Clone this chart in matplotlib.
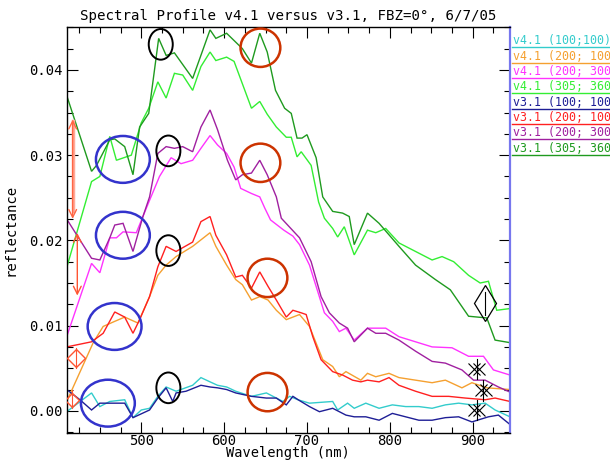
import matplotlib
matplotlib.use("Agg")
import matplotlib.pyplot as plt
from matplotlib.lines import Line2D
from matplotlib.patches import Ellipse
from matplotlib.ticker import MultipleLocator, FormatStrFormatter

# ---------------- data ----------------
labels = ["v4.1 (100;100)", "v4.1 (200; 100", "v4.1 (200; 300", "v4.1 (305; 360",
          "v3.1 (100; 100", "v3.1 (200; 100", "v3.1 (200; 300", "v3.1 (305; 360"]
colors = ["#33cccc", "#f5a030", "#ff33ff", "#33ee33",
          "#1e1e96", "#ff2020", "#a020a0", "#1f9a1f"]

wl_cyan = [410, 440, 450, 462, 480, 490, 500, 510, 520, 530, 542, 562, 572, 583, 592, 603, 614, 633, 651,
           663, 671, 679, 689, 703, 731, 737, 749, 757, 771, 787, 803, 819, 835, 851, 867, 883, 899, 915, 927, 945]
v41_100_100 = [-0.0001, 0.0021, 0.0005, 0.0011, 0.0013, -0.0008, 0.0001, 0.0003, 0.0017, 0.0028, 0.0023,
               0.0030, 0.0039, 0.0034, 0.0030, 0.0028, 0.0023, 0.0017, 0.0021, 0.0015, 0.0011, 0.0017,
               0.0013, 0.0009, 0.0011, 0.0001, 0.0009, 0.0003, 0.0009, 0.0003, 0.0007, 0.0005, 0.0005,
               0.0003, 0.0007, 0.0009, 0.0007, 0.0009, 0.0001, -0.0007]

wl_orange = [410, 442, 454, 468, 480, 496, 510, 520, 530, 542, 562, 583, 590, 603, 614, 622, 633, 643, 653,
             663, 675, 691, 703, 719, 731, 739, 747, 765, 773, 783, 799, 811, 831, 851, 867, 887, 899, 917, 945]
v41_200_100 = [0.0011, 0.0080, 0.0099, 0.0105, 0.0110, 0.0103, 0.0134, 0.0159, 0.0171, 0.0181, 0.0193,
               0.0209, 0.0193, 0.0171, 0.0154, 0.0148, 0.0130, 0.0134, 0.0130, 0.0118, 0.0107, 0.0113,
               0.0099, 0.0060, 0.0052, 0.0040, 0.0046, 0.0036, 0.0044, 0.0040, 0.0044, 0.0039, 0.0036,
               0.0033, 0.0036, 0.0027, 0.0033, 0.0027, 0.0025]

wl_magenta = [410, 440, 450, 462, 470, 478, 494, 510, 522, 536, 548, 562, 572, 583, 592, 603, 612, 620, 633,
              643, 649, 656, 672, 683, 691, 703, 721, 731, 739, 747, 757, 773, 795, 811, 831, 851, 875, 895,
              913, 925, 945]
v41_200_300 = [0.0087, 0.0173, 0.0162, 0.0203, 0.0203, 0.0210, 0.0209, 0.0247, 0.0275, 0.0297, 0.0290,
               0.0294, 0.0308, 0.0323, 0.0312, 0.0302, 0.0286, 0.0261, 0.0255, 0.0251, 0.0238, 0.0224,
               0.0212, 0.0205, 0.0195, 0.0171, 0.0115, 0.0105, 0.0093, 0.0097, 0.0083, 0.0097, 0.0097,
               0.0087, 0.0081, 0.0075, 0.0074, 0.0064, 0.0064, 0.0048, 0.0042]

wl_lgreen = [410, 440, 450, 462, 470, 488, 500, 509, 520, 530, 540, 550, 562, 572, 583, 590, 603, 612, 633,
             643, 652, 663, 675, 681, 688, 693, 705, 714, 721, 731, 737, 745, 757, 773, 783, 795, 811, 831,
             851, 863, 877, 895, 909, 919, 929, 945]
v41_305_360 = [0.0168, 0.0269, 0.0275, 0.0322, 0.0294, 0.0300, 0.0338, 0.0355, 0.0386, 0.0367, 0.0396,
               0.0394, 0.0376, 0.0404, 0.0421, 0.0411, 0.0415, 0.0410, 0.0355, 0.0363, 0.0348, 0.0333,
               0.0321, 0.0321, 0.0298, 0.0304, 0.0288, 0.0245, 0.0226, 0.0214, 0.0204, 0.0216, 0.0183,
               0.0212, 0.0209, 0.0214, 0.0197, 0.0187, 0.0177, 0.0181, 0.0175, 0.0159, 0.0150, 0.0152,
               0.0118, 0.0120]

wl_navy = [410, 426, 440, 450, 480, 490, 510, 520, 530, 538, 542, 554, 572, 583, 592, 603, 614, 633, 651,
           663, 675, 683, 691, 703, 715, 731, 747, 757, 771, 787, 803, 819, 835, 851, 867, 883, 899, 919,
           931, 945]
v31_100_100 = [0.0025, 0.0013, 0.0001, 0.0009, 0.0009, -0.0008, 0.0001, 0.0015, 0.0027, 0.0011, 0.0021,
               0.0023, 0.0030, 0.0028, 0.0027, 0.0025, 0.0021, 0.0017, 0.0015, 0.0015, 0.0007, 0.0017,
               0.0012, 0.0005, -0.0001, 0.0003, -0.0005, -0.0007, -0.0007, -0.0011, -0.0003, -0.0007,
               -0.0011, -0.0011, -0.0008, -0.0007, -0.0013, -0.0007, -0.0005, -0.0016]

wl_red = [410, 440, 454, 468, 480, 490, 498, 510, 520, 530, 542, 562, 572, 583, 590, 603, 614, 622, 633,
          643, 653, 663, 675, 683, 693, 699, 707, 717, 731, 743, 755, 765, 773, 787, 799, 811, 831, 851,
          871, 891, 915, 927, 945]
v31_200_100 = [0.0075, 0.0081, 0.0091, 0.0116, 0.0110, 0.0091, 0.0107, 0.0134, 0.0169, 0.0193, 0.0187,
               0.0198, 0.0222, 0.0228, 0.0206, 0.0183, 0.0157, 0.0159, 0.0144, 0.0163, 0.0146, 0.0130,
               0.0110, 0.0118, 0.0115, 0.0113, 0.0087, 0.0060, 0.0046, 0.0042, 0.0036, 0.0034, 0.0036,
               0.0034, 0.0039, 0.0030, 0.0023, 0.0017, 0.0017, 0.0015, 0.0013, 0.0015, 0.0011]

wl_purple = [410, 440, 450, 462, 468, 478, 490, 502, 510, 520, 530, 540, 550, 562, 572, 583, 592, 604, 614,
             622, 633, 643, 652, 663, 669, 691, 705, 717, 727, 739, 749, 757, 773, 783, 795, 811, 831, 851,
             867, 887, 901, 915, 931, 945]
v31_200_300 = [0.0225, 0.0179, 0.0177, 0.0203, 0.0218, 0.0220, 0.0187, 0.0228, 0.0251, 0.0302, 0.0310,
               0.0308, 0.0310, 0.0304, 0.0333, 0.0353, 0.0330, 0.0294, 0.0271, 0.0277, 0.0279, 0.0294,
               0.0277, 0.0251, 0.0226, 0.0203, 0.0175, 0.0134, 0.0115, 0.0103, 0.0097, 0.0081, 0.0097,
               0.0091, 0.0091, 0.0083, 0.0070, 0.0058, 0.0056, 0.0048, 0.0036, 0.0036, 0.0028, 0.0022]

wl_dgreen = [410, 440, 446, 462, 468, 480, 490, 498, 509, 521, 530, 540, 562, 583, 590, 603, 622, 633, 643,
             652, 662, 673, 681, 688, 694, 700, 711, 719, 731, 743, 751, 757, 773, 787, 811, 831, 855, 873,
             895, 917, 927, 945]
v31_305_360 = [0.0370, 0.0281, 0.0288, 0.0318, 0.0319, 0.0310, 0.0277, 0.0333, 0.0349, 0.0437, 0.0417,
               0.0420, 0.0390, 0.0447, 0.0437, 0.0443, 0.0425, 0.0408, 0.0443, 0.0421, 0.0376, 0.0355,
               0.0349, 0.0320, 0.0320, 0.0324, 0.0297, 0.0251, 0.0234, 0.0232, 0.0228, 0.0195, 0.0232,
               0.0220, 0.0193, 0.0171, 0.0154, 0.0142, 0.0111, 0.0109, 0.0083, 0.0080]

wavelengths = [wl_cyan, wl_orange, wl_magenta, wl_lgreen, wl_navy, wl_red, wl_purple, wl_dgreen]
series = [v41_100_100, v41_200_100, v41_200_300, v41_305_360,
          v31_100_100, v31_200_100, v31_200_300, v31_305_360]

# annotation ellipses (center wavelength, center reflectance)
blue_ellipses = [(477.8, 0.0295), (477.8, 0.0206), (467.8, 0.0099), (459.7, 0.0009)]
black_ellipses = [(523.5, 0.0430), (532.7, 0.0305), (532.7, 0.0188), (532.7, 0.0027)]
red_ellipses = [(643.8, 0.0426), (643.8, 0.0291), (652.3, 0.0156), (652.3, 0.0022)]

title = "Spectral Profile v4.1 versus v3.1, FBZ=0\u00b0, 6/7/05"
xlabel = "Wavelength (nm)"
ylabel = "reflectance"

# ---------------- figure ----------------
plt.rcParams['font.family'] = ['DejaVu Sans Mono', 'DejaVu Sans']
fig = plt.figure(figsize=(6.10, 4.61), dpi=100)
ax = fig.add_axes([66.7 / 610, 1 - 433 / 461, (510 - 66.7) / 610, (433 - 27.3) / 461])

for wl, vals, c in zip(wavelengths, series, colors):
    ax.plot(wl, vals, color=c, lw=1.0, solid_joinstyle='miter')

for (cx, cy) in blue_ellipses:
    ax.add_patch(Ellipse((cx, cy), 65, 0.0055, fill=False, ec='#3333cc', lw=1.8, zorder=5))
for (cx, cy) in black_ellipses:
    ax.add_patch(Ellipse((cx, cy), 29, 0.0036, fill=False, ec='black', lw=1.4, zorder=5))
for (cx, cy) in red_ellipses:
    ax.add_patch(Ellipse((cx, cy), 48, 0.0045, fill=False, ec='#cc3300', lw=1.8, zorder=5))

# left arrows
ax.plot([417.2, 417.2], [0.0235, 0.0340], color='#ffaa99', lw=2.5, zorder=5)
ax.annotate('', xy=(417.2, 0.0345), xytext=(417.2, 0.0222),
            arrowprops=dict(arrowstyle='<->', color='#ff6644', lw=1.0, mutation_scale=14), zorder=6)
ax.annotate('', xy=(422.8, 0.0212), xytext=(422.8, 0.0132),
            arrowprops=dict(arrowstyle='<->', color='#ff5533', lw=1.0, mutation_scale=14), zorder=6)
# left red diamonds
ax.plot([420.8], [0.0062], marker='D', ms=9, mfc='none', mec='#ff5533', mew=1.0, zorder=6)
ax.plot([420.8, 420.8], [0.0050, 0.0074], color='#ff5533', lw=0.8, zorder=6)
ax.plot([416.0], [0.0013], marker='D', ms=7, mfc='none', mec='#ff5533', mew=1.0, zorder=6)
ax.plot([416.0, 416.0], [0.0003, 0.0024], color='#ff5533', lw=0.8, zorder=6)

# right black symbols
ax.plot([915], [0.01263], marker='d', ms=18, mfc='none', mec='black', mew=0.9, zorder=6)
ax.plot([915, 915], [0.0112, 0.0140], color='black', lw=0.8, zorder=6)
for (sx, sy) in [(905, 0.0049), (913, 0.0024), (905, 0.0001)]:
    ax.plot([sx - 3, sx + 3], [sy, sy], ls='none', marker='x', ms=8, mec='black', mew=0.8, zorder=6)
    ax.plot([sx, sx], [sy - 0.0012, sy + 0.0012], color='black', lw=0.8, zorder=6)

ax.set_xlim(410, 945)
ax.set_ylim(-0.0026, 0.045)
ax.xaxis.set_major_locator(MultipleLocator(100))
ax.xaxis.set_minor_locator(MultipleLocator(25))
ax.yaxis.set_major_locator(MultipleLocator(0.01))
ax.yaxis.set_minor_locator(MultipleLocator(0.0025))
ax.yaxis.set_major_formatter(FormatStrFormatter('%.2f'))
ax.tick_params(which='both', direction='in', top=True, right=True, width=0.8, labelsize=10,
               colors='black')
ax.tick_params(which='major', length=8)
ax.tick_params(which='minor', length=4.5)
ax.tick_params(axis='x', pad=0.5)
ax.tick_params(axis='y', pad=3)
for s in ['left', 'top', 'bottom']:
    ax.spines[s].set_linewidth(1.0)
ax.spines['right'].set_color('#7777ee')
ax.spines['right'].set_linewidth(1.6)

ax.set_title(title, fontsize=10.2, pad=5)
ax.set_xlabel(xlabel, fontsize=9.8, labelpad=-1)
ax.set_ylabel(ylabel, fontsize=10, labelpad=8)

# legend drawn outside at the right
for i, (lab, c) in enumerate(zip(labels, colors)):
    yt = 1 - (41.0 + 15.3 * i) / 461
    yl = 1 - (47.5 + 15.3 * i) / 461
    fig.text(513 / 610, yt, lab, color=c, fontsize=8.4, va='center', ha='left')
    fig.add_artist(Line2D([512 / 610, 1.0], [yl, yl], color=c, lw=1.0, transform=fig.transFigure))

fig.savefig("out.png", dpi=100)
